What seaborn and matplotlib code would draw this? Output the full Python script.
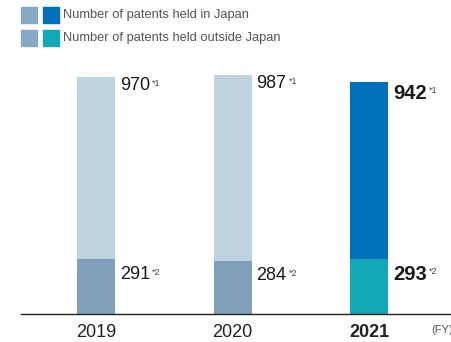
import matplotlib
matplotlib.use("Agg")
import matplotlib.pyplot as plt
from matplotlib.patches import Rectangle
import seaborn as sns
import pandas as pd

sns.set_theme(style="white")
plt.rcParams["font.family"] = ["Liberation Sans", "DejaVu Sans"]

# Patent counts by fiscal year
years = ["2019", "2020", "2021"]
japan = [970, 987, 942]
outside = [291, 284, 293]
japan_notes = ["*1", "*1", "*1"]
outside_notes = ["*2", "*2", "*2"]

legend_labels = ["Number of patents held in Japan",
                 "Number of patents held outside Japan"]

japan_colors = {"2019": "#BED2E0", "2020": "#BED2E0", "2021": "#0070BB"}
outside_colors = {"2019": "#7FA0B8", "2020": "#7FA0B8", "2021": "#12A8B5"}

df = pd.DataFrame({"year": years, "japan": japan, "outside": outside})
df["total"] = df["japan"] + df["outside"]

W, H = 452, 342
fig = plt.figure(figsize=(W / 100, H / 100), dpi=100)
ax = fig.add_axes([21 / W, (H - 314) / H, (W - 21) / W, 254 / H])

bar_w = 0.278
sns.barplot(data=df, x="year", y="total", hue="year", palette=japan_colors,
            width=bar_w, legend=False, ax=ax, saturation=1, linewidth=0)
sns.barplot(data=df, x="year", y="outside", hue="year", palette=outside_colors,
            width=bar_w, legend=False, ax=ax, saturation=1, linewidth=0)

ax.set_xlim(-0.55, 2.608)
ax.set_ylim(0, 1351)
ax.set_xlabel("")
ax.set_ylabel("")
ax.set_yticks([])
for side in ["left", "right", "top"]:
    ax.spines[side].set_visible(False)
ax.spines["bottom"].set_color("#222222")
ax.spines["bottom"].set_linewidth(1.0)
ax.tick_params(axis="x", length=0, pad=7, labelsize=13, labelcolor="#222222")
for lbl in ax.get_xticklabels():
    if lbl.get_text() == "2021":
        lbl.set_fontweight("bold")

# Value labels with footnote marks
for i, row in df.iterrows():
    latest = row["year"] == years[-1]
    size = 14.5 if latest else 13
    weight = "bold" if latest else "normal"
    for val, top, note, dy in [(row["japan"], row["total"], japan_notes[i], -1.5 if latest else 0),
                               (row["outside"], row["outside"], outside_notes[i], -4.5)]:
        t = ax.annotate(f"{val}", xy=(i + bar_w / 2, top), xytext=(3.5, dy),
                        textcoords="offset points", ha="left", va="top",
                        fontsize=size, fontweight=weight, color="#1a1a1a")
        ax.annotate(note, xy=(1, 1), xycoords=t, xytext=(1.5, -1.5),
                    textcoords="offset points", ha="left", va="top",
                    fontsize=6.5, color="#444444")

# Fiscal-year unit at right end of the axis
fig.text(431 / W, (H - 330) / H, "(FY)", fontsize=8, color="#555555",
         ha="left", va="center")

# Legend swatches
sq = 16
for r, (left_c, right_c, label) in enumerate(
        [("#86A9C3", "#0070BB", legend_labels[0]),
         ("#86A9C3", "#12A8B5", legend_labels[1])]):
    y_top = 7 + r * 23
    for x0, c in [(21, left_c), (43, right_c)]:
        fig.patches.append(Rectangle((x0 / W, (H - y_top - sq) / H), sq / W, sq / H,
                                     transform=fig.transFigure, color=c))
    fig.text(63 / W, (H - y_top - sq / 2) / H, label, fontsize=9.3,
             color="#555555", ha="left", va="center")

fig.savefig("out.png", dpi=100)
